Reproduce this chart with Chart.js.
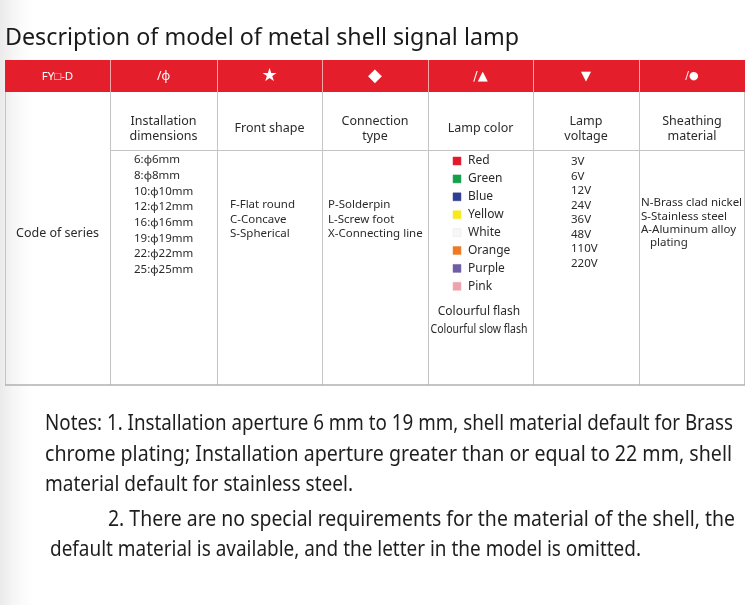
<!DOCTYPE html>
<html>
<head>
<meta charset="utf-8">
<script src="https://cdn.jsdelivr.net/npm/chart.js@4"></script>
<style>
  html, body { margin: 0; padding: 0; background: #fff; }
  #wrap { width: 750px; height: 605px; }
</style>
</head>
<body>
<div id="wrap"><canvas id="myChart" width="750" height="605"></canvas></div>
<script>
// table content
var title = 'Description of model of metal shell signal lamp';
var codeHeader = ['FY\u25A1-D', '/\u03C6', '\u2605', '\u25C6', '/\u25B2', '\u25BC', '/\u25CF'];
var columnTitles = [
  ['Code of series'],
  ['Installation', 'dimensions'],
  ['Front shape'],
  ['Connection', 'type'],
  ['Lamp color'],
  ['Lamp', 'voltage'],
  ['Sheathing', 'material']
];
var dimensions = ['6:\u03C66mm', '8:\u03C68mm', '10:\u03C610mm', '12:\u03C612mm', '16:\u03C616mm', '19:\u03C619mm', '22:\u03C622mm', '25:\u03C625mm'];
var frontShapes = ['F-Flat round', 'C-Concave', 'S-Spherical'];
var connectionTypes = ['P-Solderpin', 'L-Screw foot', 'X-Connecting line'];
var lampColors = ['Red', 'Green', 'Blue', 'Yellow', 'White', 'Orange', 'Purple', 'Pink'];
var swatchColors = ['#e3192b', '#14a04b', '#2f3e93', '#f6ea1d', '#f7f7f7', '#ee7b24', '#6f5ca6', '#eda3ae'];
var flashModes = ['Colourful flash', 'Colourful slow flash'];
var voltages = ['3V', '6V', '12V', '24V', '36V', '48V', '110V', '220V'];
var sheathing = ['N-Brass clad nickel', 'S-Stainless steel', 'A-Aluminum alloy', '   plating'];
var notes = [
  'Notes: 1. Installation aperture 6 mm to 19 mm, shell material default for Brass',
  'chrome plating; Installation aperture greater than or equal to 22 mm, shell',
  'material default for stainless steel.',
  '2. There are no special requirements for the material of the shell, the',
  'default material is available, and the letter in the model is omitted.'
];

// layout (page units, y grows downward)
var colEdges = [5, 110, 217, 322, 428, 533, 639, 745];
var headTop = 60, headBottom = 92, titleRowBottom = 150, tableBottom = 385;
var headFonts = ['11.5px "Noto Sans"', '12px "Noto Sans"', '18px "DejaVu Sans"', '18px "DejaVu Sans"',
                 '13px "DejaVu Sans"', '13px "DejaVu Sans"', '11px "DejaVu Sans"'];
var colorTop = 161, colorStep = 17.9, swatchX = 457;
var noteX = [45, 45, 45, 108, 50];
var noteY = [424, 455, 485, 520, 550];
var noteW = [688, 687, 308, 627, 591];

function colMid(i) { return (colEdges[i] + colEdges[i + 1]) / 2; }

var swatchPoints = lampColors.map(function (c, i) {
  return { x: swatchX, y: colorTop + i * colorStep };
});

var tablePlugin = {
  id: 'tableDraw',
  beforeDatasetsDraw: function (chart) {
    var c = chart.ctx;
    var X = function (v) { return chart.scales.x.getPixelForValue(v); };
    var Y = function (v) { return chart.scales.y.getPixelForValue(v); };
    c.save();

    // faint shade at the left edge
    var g = c.createLinearGradient(X(0), 0, X(40), 0);
    g.addColorStop(0, 'rgba(228,228,228,0.8)');
    g.addColorStop(1, 'rgba(255,255,255,0)');
    c.fillStyle = g;
    c.fillRect(X(0), Y(0), X(40) - X(0), Y(605) - Y(0));

    // title
    c.fillStyle = '#1a1a1a';
    c.font = '24px "Noto Sans"';
    c.textBaseline = 'middle';
    c.textAlign = 'left';
    c.fillText(title, X(5), Y(38), X(519) - X(5));

    // red code row
    c.fillStyle = '#e41e2b';
    c.fillRect(X(colEdges[0]), Y(headTop), X(colEdges[7]) - X(colEdges[0]), Y(headBottom) - Y(headTop));
    c.strokeStyle = 'rgba(255,200,200,0.8)';
    c.lineWidth = 1;
    for (var i = 1; i < 7; i++) {
      c.beginPath();
      c.moveTo(Math.round(X(colEdges[i])) + 0.5, Y(headTop));
      c.lineTo(Math.round(X(colEdges[i])) + 0.5, Y(headBottom));
      c.stroke();
    }
    c.fillStyle = '#fff';
    c.textAlign = 'center';
    codeHeader.forEach(function (t, i) {
      c.font = headFonts[i];
      c.fillText(t, X(colMid(i)), Y(76.5));
    });

    // grid
    c.strokeStyle = '#c4c4c4';
    c.beginPath();
    for (var j = 1; j < 7; j++) {
      c.moveTo(Math.round(X(colEdges[j])) + 0.5, Y(headBottom));
      c.lineTo(Math.round(X(colEdges[j])) + 0.5, Y(tableBottom));
    }
    c.moveTo(Math.round(X(colEdges[0])) + 0.5, Y(headBottom));
    c.lineTo(Math.round(X(colEdges[0])) + 0.5, Y(tableBottom));
    c.moveTo(Math.round(X(colEdges[7])) - 0.5, Y(headBottom));
    c.lineTo(Math.round(X(colEdges[7])) - 0.5, Y(tableBottom));
    c.moveTo(X(colEdges[1]), Math.round(Y(titleRowBottom)) + 0.5);
    c.lineTo(X(colEdges[7]), Math.round(Y(titleRowBottom)) + 0.5);
    c.stroke();
    c.strokeStyle = '#b0b0b0';
    c.lineWidth = 1.5;
    c.beginPath();
    c.moveTo(X(colEdges[0]), Y(tableBottom));
    c.lineTo(X(colEdges[7]), Y(tableBottom));
    c.stroke();

    // column titles
    c.fillStyle = '#2a2a2a';
    c.font = '12.5px "Noto Sans"';
    columnTitles.forEach(function (lines, i) {
      if (i === 0) return;
      if (lines.length === 1) {
        c.fillText(lines[0], X(colMid(i)), Y(128));
      } else {
        c.fillText(lines[0], X(colMid(i)), Y(121));
        c.fillText(lines[1], X(colMid(i)), Y(136));
      }
    });
    c.fillText(columnTitles[0][0], X(colMid(0)), Y(233));

    // body cells
    c.font = '11.5px "Noto Sans"';
    c.textAlign = 'left';
    dimensions.forEach(function (t, i) { c.fillText(t, X(134), Y(160 + i * 15.7)); });
    frontShapes.forEach(function (t, i) { c.fillText(t, X(230), Y(205 + i * 14.5)); });
    connectionTypes.forEach(function (t, i) { c.fillText(t, X(328), Y(205 + i * 14.5), X(424) - X(328)); });
    c.font = '12px "Noto Sans"';
    lampColors.forEach(function (t, i) { c.fillText(t, X(468), Y(colorTop + i * colorStep)); });
    c.font = '11.5px "Noto Sans"';
    voltages.forEach(function (t, i) { c.fillText(t, X(571), Y(162 + i * 14.5)); });
    sheathing.forEach(function (t, i) { c.fillText(t, X(641), Y(203 + i * 13.4), X(743) - X(641)); });
    c.textAlign = 'center';
    c.font = '12px "Noto Sans"';
    c.fillText(flashModes[0], X(479), Y(312), 84);
    c.fillText(flashModes[1], X(479), Y(330), 97);

    // notes
    c.textAlign = 'left';
    c.fillStyle = '#1e1e1e';
    c.font = '21px "Noto Sans"';
    notes.forEach(function (t, i) {
      c.fillText(t, X(noteX[i]), Y(noteY[i]), X(noteX[i] + noteW[i]) - X(noteX[i]));
    });
    c.restore();
  }
};

var ctx = document.getElementById('myChart');
var myChart = new Chart(ctx, {
  type: 'scatter',
  data: {
    datasets: [{
      label: 'Lamp color',
      data: swatchPoints,
      pointStyle: 'rect',
      pointRadius: 5.6,
      pointHoverRadius: 5.6,
      backgroundColor: swatchColors,
      borderColor: swatchColors.map(function (s, i) { return i === 4 ? '#e6e6e6' : s; }),
      borderWidth: 0.5
    }]
  },
  options: {
    responsive: false,
    devicePixelRatio: 1,
    animation: false,
    events: [],
    layout: { padding: 0, autoPadding: false },
    plugins: { legend: { display: false }, tooltip: { enabled: false } },
    scales: {
      x: { type: 'linear', min: 0, max: 750, display: false },
      y: { type: 'linear', min: 0, max: 605, reverse: true, display: false }
    }
  },
  plugins: [tablePlugin]
});
</script>
</body>
</html>
